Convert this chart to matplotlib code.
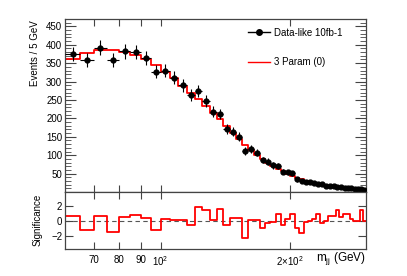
import numpy as np
import matplotlib
matplotlib.use('Agg')
import matplotlib.pyplot as plt
from matplotlib.lines import Line2D
from matplotlib.ticker import FixedLocator, FixedFormatter, NullLocator, MultipleLocator

plt.rcParams['font.family'] = ['Liberation Sans', 'DejaVu Sans']
plt.rcParams['mathtext.fontset'] = 'custom'
plt.rcParams['mathtext.rm'] = 'Liberation Sans'
plt.rcParams['mathtext.it'] = 'Liberation Sans:italic'

#DATA (5 GeV bins from 60 to 300 GeV)
bin_edges = np.arange(60, 301, 5)
data_counts = [375, 358, 392, 359, 382, 381, 363, 327, 330, 310,
               290, 263, 274, 248, 218, 212, 171, 164, 150, 112,
               118, 107, 87, 82, 72, 71, 55, 53, 51, 34,
               30, 28, 27, 24, 23, 21, 17, 16, 15, 14,
               13, 12, 11, 10, 9, 8, 8, 6]
fit_counts = [362, 377, 386, 385, 380, 372, 362, 345, 327, 309,
              289, 269, 252, 234, 215, 197, 178, 159, 143, 128,
              114, 101, 90, 80, 71, 63, 56, 50, 44, 39,
              35, 31, 27, 24, 21, 19, 17, 15, 13, 12,
              11, 10, 9.5, 9, 8, 7.5, 7, 6.5]
significance = [0.7, -1.2, 0.7, -1.5, 0.5, 0.75, 0.4, -1.2, 0.3, 0.1,
                0.1, -0.5, 1.8, 1.45, 0.1, 1.55, -0.6, 0.35, 0.45, -2.3,
                0.1, 0.1, -1.0, -0.3, -0.2, 0.9, -0.5, 0.2, 0.9, -1.0,
                -1.55, -0.2, 0.05, 0.2, 0.9, -0.3, 0.05, 0.6, 0.6, 1.5,
                0.5, 0.9, 0.9, 0.3, 0.05, 0.05, 1.4, 0.05]
x_ticks = [70, 80, 90, 100, 200]
x_ticklabels = ['70', '80', '90', r'$10^{2}$', r'$2{\times}10^{2}$']

data_counts = np.array(data_counts, dtype=float)
fit_counts = np.array(fit_counts, dtype=float)
significance = np.array(significance, dtype=float)
centers = 0.5 * (bin_edges[:-1] + bin_edges[1:])

W, H = 407, 276
fig = plt.figure(figsize=(W / 100, H / 100), dpi=100)
ax = fig.add_axes([65 / W, 1 - 192 / H, 301 / W, 173 / H])
ax2 = fig.add_axes([65 / W, 1 - 249 / H, 301 / W, 57 / H], sharex=ax)

FRAME = '#444444'
YMAX = 470
SIG_LO, SIG_HI = -3.75, 3.85

#main panel: fit histogram + data
ax.step(np.r_[bin_edges[0], bin_edges], np.r_[0, fit_counts, fit_counts[-1]],
        where='post', color='red', lw=1.3, zorder=2)
ax.errorbar(centers, data_counts, yerr=np.sqrt(data_counts), xerr=2.5,
            fmt='o', color='black', ms=3.5, elinewidth=0.8, capsize=0, zorder=3)
ax.set_xscale('log')
ax.set_xlim(60, 300)
ax.set_ylim(0, YMAX)

#ratio panel
ax2.axhline(0, color='#555555', ls=(0, (4, 3)), lw=0.8, zorder=1)
ax2.step(np.r_[bin_edges[0], bin_edges], np.r_[SIG_LO, significance, significance[-1]],
         where='post', color='red', lw=1.3, zorder=2)
ax2.set_ylim(SIG_LO, SIG_HI)

for a in (ax, ax2):
    for s in a.spines.values():
        s.set_color(FRAME)
        s.set_linewidth(0.9)
    a.xaxis.set_major_locator(FixedLocator(x_ticks))
    a.xaxis.set_minor_locator(NullLocator())
    a.tick_params(axis='both', which='both', direction='in', top=True, right=True,
                  color=FRAME, labelsize=7, pad=2)
    a.tick_params(axis='x', which='major', length=5)

ax.tick_params(axis='x', labelbottom=False)
ax.yaxis.set_major_locator(FixedLocator([50, 100, 150, 200, 250, 300, 350, 400, 450]))
ax.yaxis.set_minor_locator(MultipleLocator(10))
ax.tick_params(axis='y', which='major', length=8)
ax.tick_params(axis='y', which='minor', length=4)

ax2.yaxis.set_major_locator(FixedLocator([-2, 0, 2]))
ax2.yaxis.set_minor_locator(NullLocator())
ax2.tick_params(axis='y', which='major', length=6)
ax2.xaxis.set_major_formatter(FixedFormatter(x_ticklabels))
ax2.tick_params(axis='x', labelsize=7, pad=4)

fig.text(35 / W, 1 - 20 / H, 'Events / 5 GeV', rotation=90, ha='center', va='top', fontsize=7)
fig.text(38 / W, 1 - 220 / H, 'Significance', rotation=90, ha='center', va='center', fontsize=7)
fig.text(366 / W, 1 - 258 / H, r'm$_{\rm jj}$ (GeV)', ha='right', va='center', fontsize=8.5)

handles = [Line2D([], [], color='black', marker='o', ms=4, lw=1.0),
           Line2D([], [], color='red', lw=1.0)]
ax.legend(handles, ['Data-like 10fb-1', '3 Param (0)'], loc='upper left',
          bbox_to_anchor=(0.608, 0.95), frameon=False, fontsize=7,
          borderpad=0, borderaxespad=0, handlelength=2.3, handletextpad=0.4,
          labelspacing=2.0)

fig.savefig('out.png', dpi=100, facecolor='white')
